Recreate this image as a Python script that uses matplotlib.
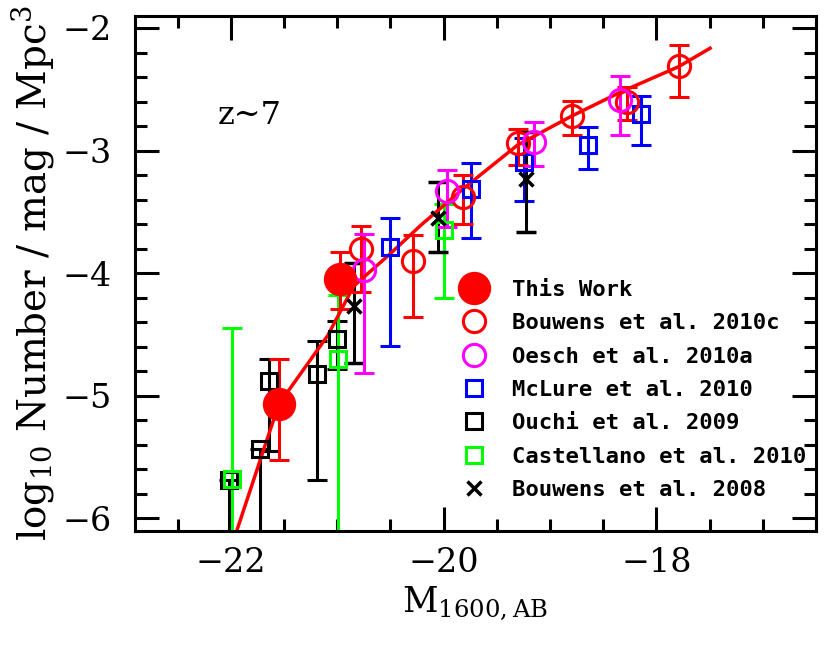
import numpy as np
import matplotlib
matplotlib.use("Agg")
import matplotlib.pyplot as plt
from matplotlib.lines import Line2D
from matplotlib.ticker import MultipleLocator

plt.rcParams['font.family'] = ['DejaVu Serif']
plt.rcParams['mathtext.fontset'] = 'dejavuserif'
plt.rcParams['mathtext.default'] = 'regular'

# data (M_1600,AB ; log10 phi ; error bar ends)
this_M = [-21.55, -20.97]
this_phi = [-5.07, -4.05]
this_lo = [-5.52, -4.295]
this_hi = [-4.70, -3.83]

b10_M = [-20.78, -20.29, -19.82, -19.30, -18.79, -18.28, -17.79]
b10_phi = [-3.80, -3.90, -3.38, -2.94, -2.715, -2.60, -2.31]
b10_lo = [-4.15, -4.36, -3.60, -3.12, -2.874, -2.75, -2.56]
b10_hi = [-3.616, -3.69, -3.20, -2.82, -2.595, -2.478, -2.137]

oe_M = [-20.75, -19.97, -19.15, -18.34]
oe_phi = [-3.97, -3.33, -2.93, -2.59]
oe_lo = [-4.81, -3.62, -3.125, -2.87]
oe_hi = [-3.684, -3.155, -2.77, -2.39]

mc_M = [-20.50, -19.74, -19.24, -18.64, -18.14]
mc_phi = [-3.79, -3.31, -3.09, -2.955, -2.70]
mc_lo = [-4.59, -3.71, -3.41, -3.15, -2.955]
mc_hi = [-3.55, -3.105, -2.90, -2.81, -2.555]

ou_M = [-22.02, -21.73, -21.64, -21.19, -21.00]
ou_phi = [-5.69, -5.435, -4.88, -4.82, -4.54]
ou_lo = [-7.0, -7.0, -5.45, -5.69, -4.78]
ou_hi = [-5.69, -5.435, -4.70, -4.553, -4.39]

ca_M = [-21.99, -20.99, -20.00]
ca_phi = [-5.68, -4.70, -3.65]
ca_lo = [-7.0, -7.0, -4.20]
ca_hi = [-4.45, -4.18, -3.435]

b08_M = [-20.84, -20.05, -19.23]
b08_phi = [-4.27, -3.55, -3.23]
b08_lo = [-4.73, -3.83, -3.665]
b08_hi = [-3.915, -3.26, -2.85]

# fitted LF curve
fit_M = [-21.94, -21.55, -21.09, -20.845, -20.50, -20.216, -19.80, -19.305, -18.80, -18.33, -17.79, -17.495]
fit_phi = [-6.09, -5.07, -4.51, -4.105, -3.84, -3.61, -3.30, -2.955, -2.72, -2.52, -2.315, -2.165]


def yerr(phi, lo, hi):
    phi = np.array(phi)
    return [phi - np.array(lo), np.array(hi) - phi]


fig = plt.figure(figsize=(8.3, 6.5), dpi=100)
ax = fig.add_axes([0.1627, 0.1835, 0.8204, 0.7923])

lw = 2.2
cs = 7
ax.errorbar(ou_M, ou_phi, yerr=yerr(ou_phi, ou_lo, ou_hi), fmt='s', color='black',
            mfc='none', mec='black', ms=11, mew=2.2, elinewidth=lw, capsize=cs, capthick=lw)
ax.errorbar(ca_M, ca_phi, yerr=yerr(ca_phi, ca_lo, ca_hi), fmt='s', color='#00ff00',
            mfc='none', ms=11, mew=2.2, elinewidth=lw, capsize=cs, capthick=lw)
ax.errorbar(mc_M, mc_phi, yerr=yerr(mc_phi, mc_lo, mc_hi), fmt='s', color='blue',
            mfc='none', ms=11, mew=2.2, elinewidth=lw, capsize=cs, capthick=lw)
ax.errorbar(b08_M, b08_phi, yerr=yerr(b08_phi, b08_lo, b08_hi), fmt='x', color='black',
            ms=10, mew=2.5, elinewidth=lw, capsize=cs, capthick=lw)
ax.errorbar(b10_M, b10_phi, yerr=yerr(b10_phi, b10_lo, b10_hi), fmt='o', color='red',
            mfc='none', ms=16, mew=2.2, elinewidth=lw, capsize=cs, capthick=lw)
ax.errorbar(oe_M, oe_phi, yerr=yerr(oe_phi, oe_lo, oe_hi), fmt='o', color='magenta',
            mfc='none', ms=16, mew=2.2, elinewidth=lw, capsize=cs, capthick=lw)
ax.errorbar(this_M, this_phi, yerr=yerr(this_phi, this_lo, this_hi), fmt='o', color='red',
            ms=23, elinewidth=lw, capsize=cs, capthick=lw)
ax.plot(fit_M, fit_phi, '-', color='red', linewidth=2.5)

ax.set_xlim(-22.9, -16.5)
ax.set_ylim(-6.1, -1.9)
ax.xaxis.set_major_locator(MultipleLocator(2))
ax.xaxis.set_minor_locator(MultipleLocator(0.5))
ax.yaxis.set_major_locator(MultipleLocator(1))
ax.yaxis.set_minor_locator(MultipleLocator(0.2))
ax.tick_params(which='both', direction='in', top=True, right=True, width=2.2)
ax.tick_params(which='major', length=17, labelsize=24)
ax.tick_params(which='minor', length=8.5)
ax.tick_params(axis='x', pad=12)
ax.tick_params(axis='y', pad=17)
for s in ax.spines.values():
    s.set_linewidth(2.2)

ax.set_xlabel(r'M$_{1600,AB}$', fontsize=25, labelpad=4)
ax.set_ylabel(r'log$_{10}$ Number / mag / Mpc$^3$', fontsize=28, labelpad=4)
ax.text(0.122, 0.807, 'z~7', transform=ax.transAxes, fontsize=23, va='center')

handles = [
    Line2D([], [], ls='none', marker='o', color='red', ms=23),
    Line2D([], [], ls='none', marker='o', mfc='none', mec='red', ms=16, mew=2.2),
    Line2D([], [], ls='none', marker='o', mfc='none', mec='magenta', ms=16, mew=2.2),
    Line2D([], [], ls='none', marker='s', mfc='none', mec='blue', ms=11, mew=2.2),
    Line2D([], [], ls='none', marker='s', mfc='none', mec='black', ms=11, mew=2.2),
    Line2D([], [], ls='none', marker='s', mfc='none', mec='#00ff00', ms=11, mew=2.2),
    Line2D([], [], ls='none', marker='x', color='black', ms=10, mew=2.5),
]
labels = ['This Work', 'Bouwens et al. 2010c', 'Oesch et al. 2010a', 'McLure et al. 2010',
          'Ouchi et al. 2009', 'Castellano et al. 2010', 'Bouwens et al. 2008']
ax.legend(handles, labels, loc='upper left', bbox_to_anchor=(0.482, 0.487), frameon=False,
          prop={'family': 'DejaVu Sans Mono', 'weight': 'bold', 'size': 16},
          borderpad=0, borderaxespad=0, handlelength=1.0, handletextpad=1.21, labelspacing=0.6)

plt.savefig('out.png', dpi=100)
